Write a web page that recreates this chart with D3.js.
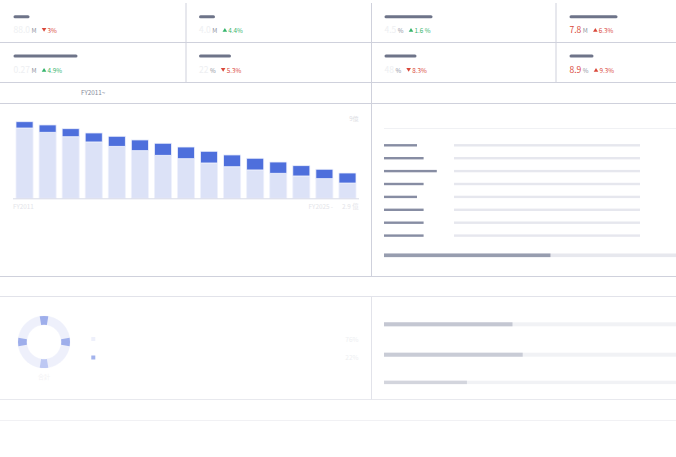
<!DOCTYPE html>
<html>
<head>
<meta charset="utf-8">
<script src="https://cdn.jsdelivr.net/npm/d3@7"></script>
<style>
  html, body { margin: 0; padding: 0; background: #fff; }
  svg { display: block; font-family: "Noto Sans CJK JP", "Noto Sans", sans-serif; }
</style>
</head>
<body>
<div id="graf"></div>
<script>
// Data
kpiValues = ['88.0', '4.0', '4.5', '7.8', '0.27', '22', '48', '8.9']
kpiUnits = ['M', 'M', '%', 'M', 'M', '%', '%', '%']
kpiDeltas = ['3%', '4.4%', '1.6 %', '6.3%', '4.9%', '5.3%', '8.3%', '9.3%']
kpiDir = ['down', 'up', 'up', 'up', 'up', 'down', 'down', 'up']
kpiGood = [false, true, true, false, true, false, false, false]
kpiAlert = [false, false, false, true, false, false, false, true]
kpiTitleLen = [2, 2, 6, 6, 8, 4, 4, 3]

years = ['FY2011', 'FY2012', 'FY2013', 'FY2014', 'FY2015', 'FY2016', 'FY2017', 'FY2018',
         'FY2019', 'FY2020', 'FY2021', 'FY2022', 'FY2023', 'FY2024', 'FY2025']
baseVals = [8.06, 7.57, 7.06, 6.46, 5.96, 5.46, 4.93, 4.54, 4.05, 3.62, 3.25, 2.87, 2.56, 2.25, 1.75]
topVals = [0.72, 0.84, 0.92, 1.03, 1.15, 1.23, 1.38, 1.34, 1.34, 1.35, 1.34, 1.29, 1.18, 1.08, 1.15]
yMaxLabel = '9億'
lastLabel = '2.9 億'

listLabelLen = [5, 6, 8, 6, 5, 6, 6, 6]
listProgress = 0.57

donutShares = [76, 22]
donutLabels = ['76%', '22%']
donutTicks = [0, 90, 180, 270]

bottomBars = [0.44, 0.475, 0.284]

// Setup
W = 676
H = 457
svg = d3.select('#graf').append('svg')
  .attr('width', W)
  .attr('height', H)

svg.append('rect').attr('width', W).attr('height', H).attr('fill', '#fff')

lineColor = '#cfd1dc'
function hline(y, x1, x2, c) {
  svg.append('line').attr('x1', x1).attr('x2', x2).attr('y1', y).attr('y2', y)
    .attr('stroke', c || lineColor).attr('stroke-width', 1)
}
function vline(x, y1, y2, c) {
  svg.append('line').attr('x1', x).attr('x2', x).attr('y1', y1).attr('y2', y2)
    .attr('stroke', c || lineColor).attr('stroke-width', 1)
}

// Grid lines
hline(42.5, 0, W)
hline(82.5, 0, W)
hline(103.5, 0, W)
hline(276.5, 0, W)
hline(296.5, 0, W, '#e2e3ea')
hline(399.5, 0, W, '#e8e9ee')
hline(420.5, 0, W, '#f1f1f4')
vline(186, 3, 82)
vline(556, 3, 82)
vline(371.5, 3, 276.5)
vline(371.5, 296.5, 399.5, '#e2e3ea')

// KPI cards
colX = [0, 185.5, 371, 556]
red = '#d9473a'
green = '#35b46c'

kpi = svg.append('g')
kpiValues.forEach((v, i) => {
  col = i % 4
  row = Math.floor(i / 4)
  x0 = colX[col] + 13.5
  yTitle = row == 0 ? 16.7 : 56
  yVal = row == 0 ? 32.5 : 72.5

  kpi.append('rect')
    .attr('x', x0).attr('y', yTitle - 1.5)
    .attr('width', kpiTitleLen[i] * 8).attr('height', 3)
    .attr('rx', 1.5)
    .attr('fill', '#6e7489')

  val = kpi.append('text')
    .attr('x', x0).attr('y', yVal)
    .attr('font-size', '8.5px')
    .attr('fill', kpiAlert[i] ? red : '#eeeff2')
    .text(v)
  vw = val.node().getComputedTextLength()

  unit = kpi.append('text')
    .attr('x', x0 + vw + 1.5).attr('y', yVal)
    .attr('font-size', '6.2px')
    .attr('fill', '#8d919e')
    .text(kpiUnits[i])
  uw = unit.node().getComputedTextLength()

  c = kpiGood[i] ? green : red
  tx = x0 + vw + uw + 9
  ty = yVal - 2.6
  tri = kpiDir[i] == 'up'
    ? `M${tx - 2.3},${ty + 1.8}L${tx + 2.3},${ty + 1.8}L${tx},${ty - 2}Z`
    : `M${tx - 2.3},${ty - 2}L${tx + 2.3},${ty - 2}L${tx},${ty + 1.8}Z`
  kpi.append('path').attr('d', tri).attr('fill', c)

  kpi.append('text')
    .attr('x', tx + 3.5).attr('y', yVal)
    .attr('font-size', '6.3px')
    .attr('fill', c)
    .text(kpiDeltas[i])
})

// Section header
svg.append('text')
  .attr('x', 81).attr('y', 94.5)
  .attr('font-size', '6.3px')
  .attr('fill', '#868a98')
  .text('FY2011~')

// Stacked bars
bars = years.map((y, i) => ({ year: y, base: baseVals[i], top: topVals[i] }))
stack = d3.stack().keys(['base', 'top'])(bars)

x = d3.scaleBand().domain(years).range([13, 359]).paddingInner(0.26).paddingOuter(0.13)
y = d3.scaleLinear().domain([0, 9]).range([198.3, 119.8])
colors = { base: '#dce2f7', top: '#4e6fdc' }

chart = svg.append('g')
chart.selectAll('g.serie')
  .data(stack)
  .join('g')
  .attr('class', 'serie')
  .attr('fill', d => colors[d.key])
  .selectAll('rect')
  .data(d => d)
  .join('rect')
  .attr('x', d => x(d.data.year))
  .attr('y', d => y(d[1]))
  .attr('width', x.bandwidth())
  .attr('height', d => y(d[0]) - y(d[1]))
  .attr('stroke', '#eef1fc')
  .attr('stroke-width', 0.8)

chart.append('line')
  .attr('x1', 13).attr('x2', 359)
  .attr('y1', y(0) + 0.5).attr('y2', y(0) + 0.5)
  .attr('stroke', '#d7dae6')

chart.append('text')
  .attr('x', 13).attr('y', 208.5)
  .attr('font-size', '6.3px').attr('fill', '#e3e4e9')
  .text(years[0])
chart.append('text')
  .attr('x', 333).attr('y', 208.5)
  .attr('text-anchor', 'end')
  .attr('font-size', '6.3px').attr('fill', '#e3e4e9')
  .text(years[years.length - 1] + ' -')
chart.append('text')
  .attr('x', 358.5).attr('y', 208.5)
  .attr('text-anchor', 'end')
  .attr('font-size', '6.3px').attr('fill', '#e3e4e9')
  .text(lastLabel)
chart.append('text')
  .attr('x', 358.5).attr('y', 120.5)
  .attr('text-anchor', 'end')
  .attr('font-size', '6px').attr('fill', '#dcdde3')
  .text(yMaxLabel)

// Right list panel
hline(128.5, 384, W, '#f0f1f4')
charW = d3.scaleLinear().domain([0, 1]).range([0, 6.6])
rowY = d3.scaleLinear().domain([0, 1]).range([145.3, 158.2])

list = svg.append('g')
list.selectAll('rect.track')
  .data(listLabelLen)
  .join('rect')
  .attr('class', 'track')
  .attr('x', 454).attr('y', (d, i) => rowY(i) - 1.2)
  .attr('width', 186).attr('height', 2.4)
  .attr('fill', '#e6e7ee')
list.selectAll('rect.lbl')
  .data(listLabelLen)
  .join('rect')
  .attr('class', 'lbl')
  .attr('x', 384).attr('y', (d, i) => rowY(i) - 1.2)
  .attr('width', d => charW(d)).attr('height', 2.4)
  .attr('fill', '#878da3')

prog = d3.scaleLinear().domain([0, 1]).range([0, 292])
list.append('rect')
  .attr('x', 384).attr('y', 253.5)
  .attr('width', prog(1)).attr('height', 3.6)
  .attr('fill', '#e7e8ee')
list.append('rect')
  .attr('x', 384).attr('y', 253.5)
  .attr('width', prog(listProgress)).attr('height', 3.6)
  .attr('fill', '#979daf')

// Donut
cx = 44
cy = 342
donut = svg.append('g').attr('transform', `translate(${cx},${cy})`)
pie = d3.pie().sort(null)
arc = d3.arc().innerRadius(17.3).outerRadius(26)
donut.selectAll('path.seg')
  .data(pie(donutShares))
  .join('path')
  .attr('class', 'seg')
  .attr('d', arc)
  .attr('fill', '#eef0fb')
  .attr('stroke', '#eef0fb')
  .attr('stroke-width', 0.5)

tickHalf = 9.5 * Math.PI / 180
donut.selectAll('path.tick')
  .data(donutTicks)
  .join('path')
  .attr('class', 'tick')
  .attr('d', d => arc({ startAngle: d * Math.PI / 180 - tickHalf, endAngle: d * Math.PI / 180 + tickHalf }))
  .attr('fill', d => d == 180 ? '#bdc8f3' : '#9eaeeb')

svg.append('text')
  .attr('x', cx).attr('y', 379)
  .attr('text-anchor', 'middle')
  .attr('font-size', '6px').attr('fill', '#f3f3f5')
  .text('合計')

legColors = ['#eef0fb', '#a3b3ec']
legY = d3.scaleLinear().domain([0, 1]).range([339, 357.5])
leg = svg.append('g')
leg.selectAll('rect')
  .data(donutShares)
  .join('rect')
  .attr('x', 91.3).attr('y', (d, i) => legY(i) - 2)
  .attr('width', 4).attr('height', 4)
  .attr('fill', (d, i) => legColors[i])
leg.selectAll('text')
  .data(donutLabels)
  .join('text')
  .attr('x', 358.5).attr('y', (d, i) => legY(i) + 2.5)
  .attr('text-anchor', 'end')
  .attr('font-size', '6.5px').attr('fill', '#eeeff2')
  .text(d => d)

// Bottom right bars
botY = [324.3, 354.7, 382.7]
botFill = ['#c4c7d2', '#c9ccd6', '#d3d5dd']
bot = svg.append('g')
bot.selectAll('rect.track')
  .data(bottomBars)
  .join('rect')
  .attr('class', 'track')
  .attr('x', 384).attr('y', (d, i) => botY[i] - 2)
  .attr('width', prog(1)).attr('height', (d, i) => i == 2 ? 3.4 : 4)
  .attr('fill', '#f1f2f5')
bot.selectAll('rect.fill')
  .data(bottomBars)
  .join('rect')
  .attr('class', 'fill')
  .attr('x', 384).attr('y', (d, i) => botY[i] - 2)
  .attr('width', d => prog(d)).attr('height', (d, i) => i == 2 ? 3.4 : 4)
  .attr('fill', (d, i) => botFill[i])
</script>
</body>
</html>
